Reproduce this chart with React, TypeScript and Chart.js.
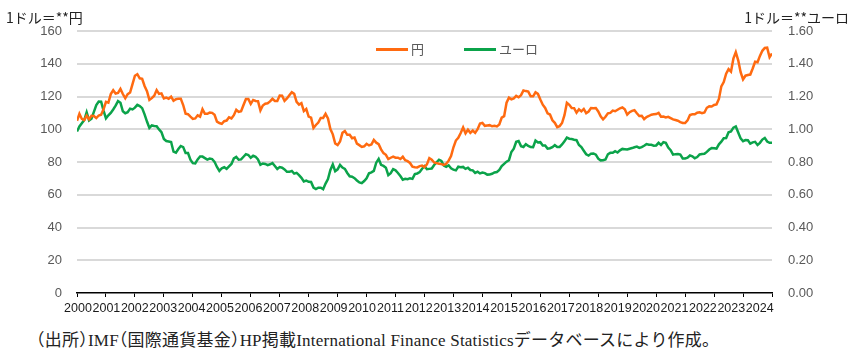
import React, { useEffect, useRef } from "react";
import { Chart, registerables } from "chart.js";

Chart.register(...registerables);

// Year labels on the horizontal axis (one per January)
const yearLabels: string[] = [
  "2000", "2001", "2002", "2003", "2004", "2005", "2006", "2007", "2008", "2009",
  "2010", "2011", "2012", "2013", "2014", "2015", "2016", "2017", "2018", "2019",
  "2020", "2021", "2022", "2023", "2024",
];

// Monthly yen per US dollar, Jan 2000 – Jan 2024
const yenPerDollar: number[] = [
  105.2, 109.4, 106.3, 105.6, 108.3, 106.1, 108.2, 108.1, 106.8, 108.4, 108.9, 112.2,
  116.7, 116.2, 121.5, 123.8, 121.8, 122.2, 124.6, 121.5, 118.9, 121.4, 122.4, 127.6,
  132.7, 133.6, 131.1, 130.8, 126.4, 123.3, 117.9, 119.0, 120.5, 123.9, 121.6, 121.9,
  118.8, 119.3, 118.6, 119.9, 117.4, 118.3, 118.7, 118.7, 114.8, 109.5, 109.2, 107.7,
  106.3, 106.6, 108.5, 107.7, 112.2, 109.4, 109.4, 110.2, 110.0, 108.8, 104.7, 103.8,
  103.3, 104.9, 105.3, 107.3, 106.6, 108.6, 111.9, 110.6, 111.0, 114.8, 118.5, 118.5,
  115.5, 117.9, 117.3, 117.1, 111.5, 114.5, 115.6, 115.9, 117.0, 118.6, 117.3, 117.3,
  120.6, 120.5, 117.3, 118.8, 120.8, 122.6, 121.6, 116.7, 115.0, 115.9, 111.1, 112.4,
  107.7, 107.1, 100.8, 102.6, 104.1, 106.9, 106.9, 109.4, 106.6, 100.1, 96.9, 91.3,
  90.3, 92.5, 97.8, 98.9, 96.6, 96.6, 94.5, 94.9, 91.2, 90.3, 89.2, 89.6,
  91.1, 90.1, 90.7, 93.5, 91.8, 90.9, 87.7, 85.4, 84.4, 81.8, 82.6, 83.3,
  82.6, 82.6, 81.8, 83.2, 81.1, 80.5, 79.4, 77.1, 76.8, 76.7, 77.5, 77.8,
  76.9, 78.5, 82.4, 81.4, 79.7, 79.3, 78.9, 78.7, 78.2, 78.9, 80.8, 83.6,
  89.0, 93.1, 94.8, 97.7, 101.1, 97.5, 99.7, 97.8, 99.2, 97.8, 100.0, 103.5,
  103.9, 102.1, 102.3, 102.5, 101.8, 102.1, 101.7, 102.9, 107.1, 108.0, 116.2, 119.3,
  118.3, 118.8, 120.4, 119.5, 120.8, 123.7, 123.3, 123.0, 120.1, 120.1, 122.6, 121.6,
  118.2, 115.0, 113.0, 109.7, 109.0, 105.5, 103.9, 101.3, 101.9, 103.8, 108.6, 116.1,
  114.9, 113.0, 112.9, 110.1, 112.2, 110.9, 112.4, 109.8, 110.8, 112.9, 112.8, 112.9,
  110.9, 107.9, 106.0, 107.6, 109.7, 110.0, 111.4, 111.0, 111.9, 112.8, 113.3, 112.2,
  108.9, 110.4, 111.2, 111.6, 109.8, 108.1, 108.2, 106.2, 107.5, 108.1, 108.9, 109.1,
  109.3, 110.0, 107.7, 107.8, 107.2, 107.6, 106.8, 106.0, 105.6, 105.2, 104.4, 103.8,
  103.8, 105.4, 108.7, 109.1, 109.1, 110.1, 110.3, 109.8, 110.2, 113.1, 114.0, 113.9,
  114.8, 115.2, 118.5, 126.2, 128.8, 133.9, 136.7, 135.2, 143.1, 147.1, 142.1, 134.8,
  130.4, 132.7, 133.1, 133.4, 137.1, 141.2, 140.9, 144.8, 147.9, 149.6, 149.8, 144.0,
  146.3,
];

// Monthly euro per US dollar, Jan 2000 – Jan 2024
const euroPerDollar: number[] = [
  0.986, 1.017, 1.037, 1.056, 1.104, 1.054, 1.064, 1.106, 1.147, 1.169, 1.168, 1.114,
  1.066, 1.085, 1.100, 1.121, 1.144, 1.172, 1.162, 1.110, 1.098, 1.104, 1.126, 1.121,
  1.132, 1.149, 1.142, 1.129, 1.091, 1.047, 1.008, 1.023, 1.020, 1.019, 0.999, 0.982,
  0.941, 0.928, 0.925, 0.922, 0.863, 0.857, 0.879, 0.898, 0.891, 0.855, 0.855, 0.814,
  0.793, 0.791, 0.816, 0.834, 0.833, 0.824, 0.815, 0.821, 0.818, 0.801, 0.770, 0.746,
  0.762, 0.768, 0.758, 0.773, 0.788, 0.822, 0.831, 0.814, 0.816, 0.832, 0.848, 0.843,
  0.826, 0.838, 0.832, 0.815, 0.783, 0.791, 0.788, 0.781, 0.786, 0.793, 0.776, 0.757,
  0.769, 0.765, 0.755, 0.740, 0.740, 0.745, 0.729, 0.734, 0.720, 0.703, 0.681, 0.686,
  0.679, 0.678, 0.644, 0.635, 0.643, 0.643, 0.634, 0.668, 0.696, 0.751, 0.785, 0.744,
  0.755, 0.782, 0.766, 0.758, 0.733, 0.713, 0.710, 0.701, 0.687, 0.675, 0.671, 0.684,
  0.701, 0.731, 0.737, 0.746, 0.796, 0.819, 0.783, 0.776, 0.765, 0.720, 0.732, 0.756,
  0.749, 0.733, 0.714, 0.692, 0.697, 0.695, 0.701, 0.697, 0.726, 0.730, 0.738, 0.759,
  0.775, 0.756, 0.758, 0.760, 0.782, 0.798, 0.814, 0.806, 0.778, 0.771, 0.780, 0.762,
  0.753, 0.749, 0.771, 0.768, 0.770, 0.758, 0.765, 0.751, 0.749, 0.733, 0.741, 0.730,
  0.735, 0.732, 0.723, 0.724, 0.728, 0.736, 0.739, 0.751, 0.775, 0.789, 0.802, 0.811,
  0.861, 0.881, 0.923, 0.928, 0.897, 0.892, 0.909, 0.898, 0.891, 0.890, 0.931, 0.919,
  0.921, 0.901, 0.901, 0.882, 0.884, 0.891, 0.903, 0.892, 0.892, 0.907, 0.926, 0.949,
  0.942, 0.940, 0.936, 0.933, 0.904, 0.891, 0.869, 0.847, 0.839, 0.851, 0.852, 0.845,
  0.820, 0.810, 0.811, 0.815, 0.847, 0.856, 0.856, 0.866, 0.858, 0.871, 0.880, 0.878,
  0.876, 0.881, 0.885, 0.890, 0.894, 0.886, 0.891, 0.899, 0.909, 0.905, 0.905, 0.900,
  0.901, 0.917, 0.904, 0.921, 0.917, 0.888, 0.872, 0.845, 0.848, 0.849, 0.845, 0.822,
  0.822, 0.827, 0.840, 0.835, 0.823, 0.830, 0.846, 0.849, 0.850, 0.862, 0.876, 0.885,
  0.884, 0.882, 0.908, 0.924, 0.945, 0.946, 0.982, 0.987, 1.010, 1.017, 0.980, 0.944,
  0.927, 0.934, 0.933, 0.912, 0.920, 0.923, 0.904, 0.917, 0.937, 0.947, 0.925, 0.917,
  0.917,
];

const ORANGE = "#FF6A10";
const GREEN = "#0BA34A";
const GRID = "#D9D9D9";
const TICK_GREY = "#595959";
const SANS = '"Liberation Sans", Arial, sans-serif';
const JP = '"Noto Sans CJK JP", sans-serif';

export default function App() {
  const canvasRef = useRef<HTMLCanvasElement>(null);

  useEffect(() => {
    const canvas = canvasRef.current;
    if (!canvas) return;
    const months = yenPerDollar.length - 1;
    const chart = new Chart(canvas, {
      type: "line",
      data: {
        datasets: [
          {
            label: "円",
            data: yenPerDollar.map((v, i) => ({ x: i, y: v })),
            borderColor: ORANGE,
            backgroundColor: ORANGE,
            borderWidth: 2.5,
            pointRadius: 0,
            tension: 0,
            xAxisID: "x",
            yAxisID: "y",
          },
          {
            label: "ユーロ",
            data: euroPerDollar.map((v, i) => ({ x: i, y: v })),
            borderColor: GREEN,
            backgroundColor: GREEN,
            borderWidth: 2.5,
            pointRadius: 0,
            tension: 0,
            xAxisID: "x",
            yAxisID: "y2",
          },
        ],
      },
      options: {
        responsive: false,
        animation: false,
        events: [],
        layout: { padding: { top: 31, left: 0, right: 0, bottom: 0 } },
        plugins: { legend: { display: false }, tooltip: { enabled: false } },
        scales: {
          x: {
            type: "linear",
            axis: "x",
            position: "bottom",
            weight: 0,
            min: 0,
            max: months,
            ticks: { display: false, stepSize: 12, autoSkip: false },
            grid: {
              display: true,
              drawOnChartArea: false,
              drawTicks: true,
              tickLength: 4,
              color: "#000",
              lineWidth: 1,
            },
            border: { display: true, color: "#000", width: 1.5 },
            afterFit: (s: any) => {
              s.height = 6;
            },
          },
          xl: {
            type: "linear",
            axis: "x",
            position: "bottom",
            weight: 1,
            min: -0.0352,
            max: 24.433,
            ticks: {
              stepSize: 1,
              autoSkip: false,
              includeBounds: false,
              maxRotation: 0,
              minRotation: 0,
              padding: 2,
              color: "#1a1a1a",
              font: { family: SANS, size: 12.5 },
              callback: (v: any) => {
                const n = Number(v);
                return Number.isInteger(n) && yearLabels[n] ? yearLabels[n] : "";
              },
            },
            grid: { display: false, drawTicks: false },
            border: { display: false },
            afterFit: (s: any) => {
              s.height = 20;
            },
          },
          y: {
            type: "linear",
            position: "left",
            min: 0,
            max: 160,
            ticks: {
              stepSize: 20,
              padding: 15,
              color: TICK_GREY,
              font: { family: SANS, size: 13 },
            },
            grid: {
              drawTicks: false,
              lineWidth: 2,
              color: (ctx: any) => (ctx.tick && ctx.tick.value === 0 ? "rgba(0,0,0,0)" : GRID),
            },
            border: { display: false },
            afterFit: (s: any) => {
              s.width = 77;
            },
          },
          y2: {
            type: "linear",
            position: "right",
            min: 0,
            max: 1.6,
            ticks: {
              stepSize: 0.2,
              padding: 16,
              color: TICK_GREY,
              font: { family: SANS, size: 13 },
              callback: (v: any) => Number(v).toFixed(2),
            },
            grid: { display: false, drawTicks: false },
            border: { display: false },
            afterFit: (s: any) => {
              s.width = 78;
            },
          },
        },
      },
    } as any);
    return () => chart.destroy();
  }, []);

  const textBase: React.CSSProperties = {
    position: "absolute",
    whiteSpace: "nowrap",
    fontFamily: JP,
  };
  const half: React.CSSProperties = { fontFeatureSettings: '"halt"' };

  return (
    <div
      style={{
        position: "fixed",
        left: 0,
        top: 0,
        width: 850,
        height: 356,
        background: "#fff",
        overflow: "hidden",
      }}
    >
      <canvas
        ref={canvasRef}
        width={850}
        height={319}
        style={{ position: "absolute", left: 0, top: 0, width: 850, height: 319 }}
      />
      <div style={{ ...textBase, left: 6, top: 8, fontSize: 14, lineHeight: "18px", color: "#222" }}>
        1ドル＝**円
      </div>
      <div style={{ ...textBase, right: 1, top: 8, fontSize: 14, lineHeight: "18px", color: "#222" }}>
        1ドル＝**ユーロ
      </div>
      {/* legend */}
      <div style={{ position: "absolute", left: 376, top: 48, width: 32, height: 3, background: ORANGE }} />
      <div style={{ ...textBase, left: 411, top: 40, fontSize: 13, lineHeight: "18px", color: TICK_GREY }}>円</div>
      <div style={{ position: "absolute", left: 464, top: 48, width: 32, height: 3, background: GREEN }} />
      <div style={{ ...textBase, left: 499, top: 40, fontSize: 13, lineHeight: "18px", color: TICK_GREY }}>
        ユーロ
      </div>
      <div
        style={{
          ...textBase,
          left: 36,
          top: 331,
          fontFamily: '"Liberation Serif", "Noto Sans CJK JP", serif',
          fontSize: 17,
          lineHeight: "20px",
          letterSpacing: "0.22px",
          color: "#222",
        }}
      >
        <span style={half}>（</span>出所<span style={half}>）</span>IMF<span style={half}>（</span>国際通貨基金
        <span style={half}>）</span>HP掲載International Finance Statisticsデータベースにより作成。
      </div>
    </div>
  );
}
